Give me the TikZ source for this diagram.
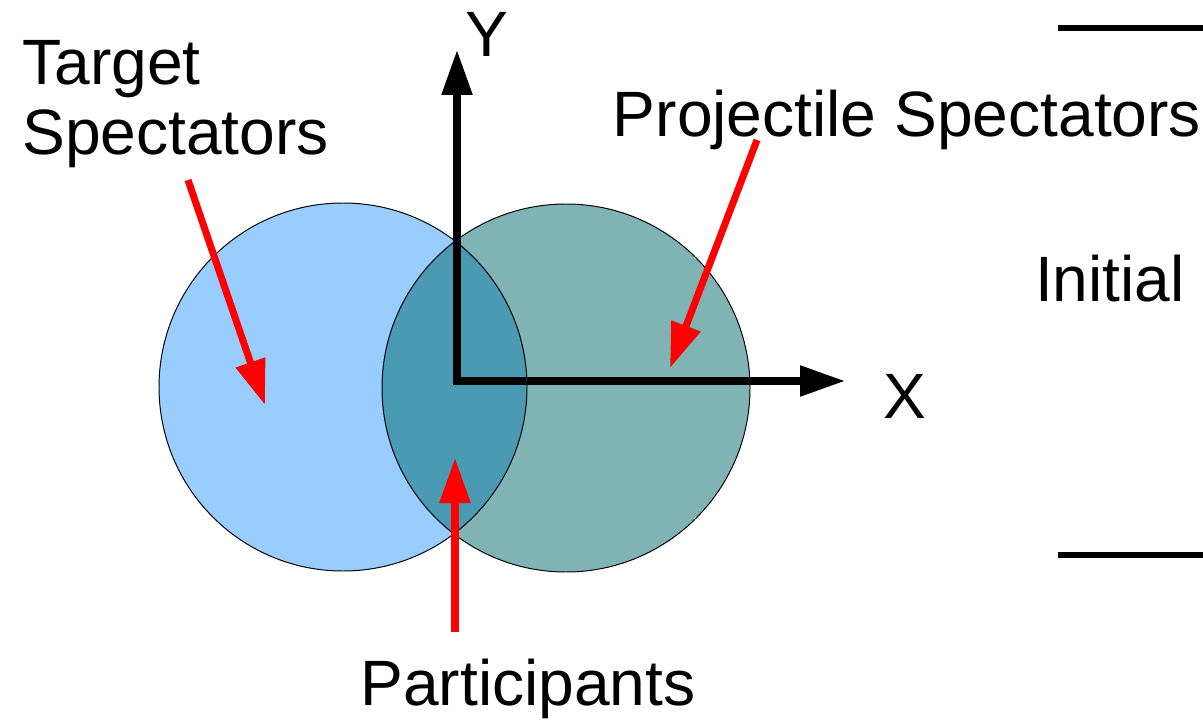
\documentclass[tikz,border=0pt]{standalone}
\usepackage{fontspec}
\setmainfont{Liberation Sans}
\usepackage{tikz}
\usetikzlibrary{arrows.meta,positioning}
\definecolor{cible}{RGB}{153,204,255}
\definecolor{projo}{RGB}{128,180,180}
\definecolor{recouv}{RGB}{74,154,180}

\begin{document}
\begin{tikzpicture}[x=0.025cm,y=-0.025cm,
	lbl/.style={inner sep=0pt,font=\fontsize{45.6}{52}\selectfont,anchor=base},
	axe/.style={-{Triangle[length=32pt,width=21pt]},line width=5pt},
	fleche/.style={-{Triangle[length=32pt,width=21pt]},line width=5pt,red},
	disque/.style={draw=black,line width=0.7pt}]
	
	\useasboundingbox (0,0) rectangle (1203,722);
	
	% les deux noyaux
	\fill[cible] (343,387) circle (184);
	\fill[projo] (566,388) circle (184);
	\begin{scope}
		\clip (343,387) circle (184);
		\fill[recouv] (566,388) circle (184);
	\end{scope}
	\draw[disque] (343,387) circle (184);
	\draw[disque] (566,388) circle (184);
	
	% axes
	\coordinate (O) at (457,381);
	\coordinate (ytip) at (457,50);
	\coordinate (xtip) at (845,381);
	\draw[axe] (O)--(ytip);
	\draw[axe] ([xshift=-2.5pt]O)--(xtip);
	
	\node[lbl] (ylab) at (487,57) {Y};
	\node[lbl] (xlab) at (905,418) {X};
	
	% textes
	\node[lbl,anchor=base west] (target) at (22,85) {Target};
	\node[lbl,anchor=base west] (spect) at (22,155) {Spectators};
	\node[lbl] (proj) at (907,137) {Projectile Spectators};
	\node[lbl] (init) at (1110,301) {Initial};
	\node[lbl] (part) at (528,705) {Participants};
	
	% traits a droite
	\draw[line width=4.2pt] (1058,28)--(1203,28);
	\draw[line width=4.2pt] (1058,555)--(1203,555);
	
	% fleches rouges
	\coordinate (t0) at (188,180);
	\coordinate (t1) at (265,405);
	\coordinate (p0) at (757,140);
	\coordinate (p1) at (670,368);
	\coordinate (q0) at (455,632);
	\coordinate (q1) at (455,458);
	\draw[fleche] (t0)--(t1);
	\draw[fleche] (p0)--(p1);
	\draw[fleche] (q0)--(q1);
	
\end{tikzpicture}
\end{document}
